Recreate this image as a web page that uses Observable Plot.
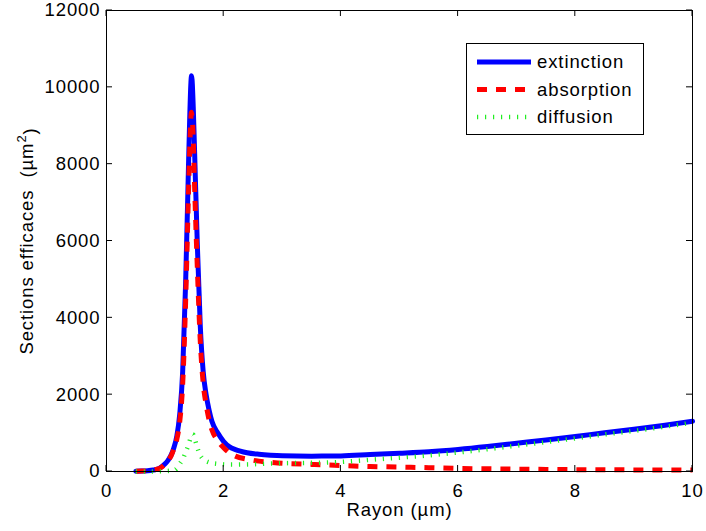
<!DOCTYPE html>
<html><head><meta charset="utf-8">
<script src="https://cdn.jsdelivr.net/npm/d3@7"></script>
<script src="https://cdn.jsdelivr.net/npm/@observablehq/plot@0.6"></script>
<style>
body{margin:0;background:#fff}
#chart svg text{letter-spacing:0.9px}
</style>
</head><body><div id="chart"></div>
<script>
// Rayon (µm)
const rayon = [0.5,0.6,0.7,0.8,0.9, 1.0,1.05,1.1,1.15,1.2, 1.25,1.3,1.35,1.4,1.42, 1.44,1.45,1.46,1.48,1.5, 1.55,1.6,1.65,1.7,1.75, 1.8,1.9,2.0,2.1,2.2, 2.4,2.6,2.8,3.0,3.5, 4.0,4.5,5.0,5.5,6.0, 6.5,7.0,7.5,8.0,8.5, 9.0,9.5,10];
// Sections efficaces (µm²)
const extinction = [5,10,20,40,80, 200,290,420,620,920, 1500,2600,4900,8000,9200, 10100,10300,10200,9500,8500, 5900,3800,2600,2000,1600, 1300,1000,780,640,570, 490,450,425,410,400, 405,440,475,515,575, 650,735,820,910,1010, 1100,1200,1310];
const absorption = [5,10,20,38,75, 190,285,400,590,840, 1300,2280,4400,7300,8400, 9200,9350,9250,8700,7600, 5300,3400,2300,1750,1350, 1080,800,620,480,400, 320,270,240,215,185, 155,130,115,100,80, 70,62,55,48,45, 42,40,38];
const diffusion = [0,0,1,2,5, 10,15,20,30,80, 200,320,500,700,800, 900,940,970,960,880, 620,420,320,270,240, 220,200,185,180,180, 185,195,205,215,225, 250,305,360,420,495, 580,673,765,862,965, 1058,1160,1272];

const seriesNames = ["extinction","absorption","diffusion"];
const xTicks = [0,2,4,6,8,10];
const yTicks = [0,2000,4000,6000,8000,10000,12000];
const xLabel = "Rayon (µm)";
const yLabel = "Sections efficaces  (µm²)";

const colors = {extinction:"#0000ff", absorption:"#ff0000", diffusion:"#22ee22"};
const dashes = {extinction:null, absorption:"10,9", diffusion:"1.2,6.8"};
const widths = {extinction:5, absorption:5, diffusion:4.5};
const caps = {extinction:"round", absorption:"butt", diffusion:"butt"};

const rows = rayon.map((r,i)=>({r, extinction: extinction[i], absorption: absorption[i], diffusion: diffusion[i]}));

const FS = 18.5;
const FONT = "Liberation Sans, Arial, Helvetica, sans-serif";
const plot = Plot.plot({
  width:706, height:531,
  marginLeft:106, marginRight:14, marginTop:10, marginBottom:60,
  style:{fontFamily:FONT, fontSize:FS+"px", background:"#fff", color:"#000"},
  x:{domain:[0,10]},
  y:{domain:[0,12000]},
  marks:[
    Plot.axisX(xTicks,{anchor:"bottom", tickSize:0, tickPadding:12, fontSize:FS, tickFormat:d=>String(d),
      label:xLabel, labelAnchor:"center", labelArrow:"none", labelOffset:44}),
    Plot.axisY(yTicks,{anchor:"left", tickSize:0, tickPadding:6, fontSize:FS, tickFormat:d=>String(d),
      label:yLabel, labelAnchor:"center", labelArrow:"none", labelOffset:87}),
    ...seriesNames.map(s => Plot.line(rows,{x:"r", y:s, stroke:colors[s], strokeWidth:widths[s],
      strokeDasharray:dashes[s], strokeLinecap:caps[s], curve:"monotone-x", strokeLinejoin:"round"})),
    Plot.frame({stroke:"#000", strokeWidth:1})
  ]
});
document.getElementById("chart").appendChild(plot);

const svg = d3.select(plot);

// real superscript in the y label
svg.selectAll("text").filter(function(){ return this.textContent === yLabel; }).each(function(){
  const t = d3.select(this);
  t.text(null).style("white-space","pre");
  t.append("tspan").text("Sections efficaces  (µm");
  t.append("tspan").attr("font-size","70%").attr("dy","-0.55em").text("2");
  t.append("tspan").attr("dy","0.55em").text(")");
});

// inward ticks on all four sides, via the plot's own scales
const sx = plot.scale("x"), sy = plot.scale("y");
const [x0, x1] = sx.range, [y0, y1] = sy.range; // y0 bottom, y1 top
const tk = svg.append("g").attr("stroke","#000").attr("stroke-width",1);
for (const t of xTicks) {
  const px = sx.apply(t);
  tk.append("line").attr("x1",px).attr("x2",px).attr("y1",y0).attr("y2",y0-6);
  tk.append("line").attr("x1",px).attr("x2",px).attr("y1",y1).attr("y2",y1+6);
}
for (const t of yTicks) {
  const py = sy.apply(t);
  tk.append("line").attr("y1",py).attr("y2",py).attr("x1",x0).attr("x2",x0+6);
  tk.append("line").attr("y1",py).attr("y2",py).attr("x1",x1).attr("x2",x1-6);
}

// legend box
const lg = svg.append("g").attr("font-size",FS).attr("font-family",FONT).attr("text-anchor","start");
lg.append("rect").attr("x",466.5).attr("y",43.5).attr("width",177).attr("height",91)
  .attr("fill","#fff").attr("stroke","#000").attr("stroke-width",1);
seriesNames.forEach((s,i)=>{
  const yy = 62 + i*27.5;
  lg.append("line").attr("x1",477).attr("x2",531).attr("y1",yy).attr("y2",yy)
    .attr("stroke",colors[s]).attr("stroke-width",widths[s]).attr("stroke-dasharray",dashes[s])
    .attr("stroke-linecap","butt");
  lg.append("text").attr("x",537).attr("y",yy).attr("dy","0.35em").attr("fill","#000")
    .attr("text-anchor","start").text(s);
});
</script>
</body></html>
